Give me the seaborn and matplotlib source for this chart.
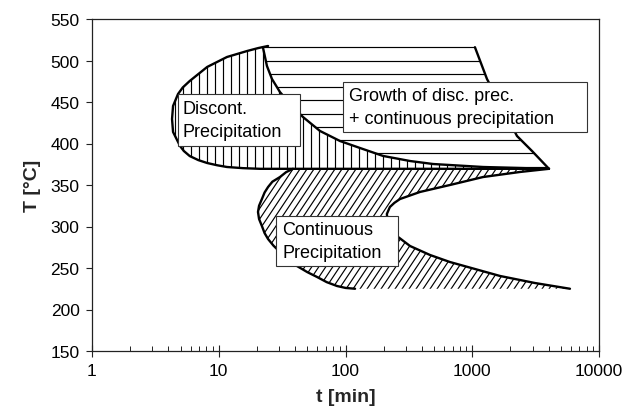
import numpy as np
import matplotlib
matplotlib.use("Agg")
import matplotlib.pyplot as plt
from matplotlib.collections import LineCollection
from matplotlib.patches import Rectangle
import seaborn as sns

# ---- TTT diagram boundaries (t in min, T in °C) ----
disc_outer_t = [24.5, 20.5, 16.7, 11.6, 8.1, 5.9, 5.2, 4.77, 4.36, 4.28, 4.36, 4.95, 5.3, 5.9, 6.9, 8.1,
                9.7, 11.6, 15.5, 21.2, 269, 4030]
disc_outer_T = [517.5, 515.0, 511.4, 504.2, 492.2, 475.3, 467.5, 459.6, 445.2, 429.5, 413.9, 397.0, 391.0,
                384.9, 380.0, 376.5, 373.8, 371.7, 370.3, 369.5, 369.5, 369.5]

disc_inner_t = [22.3, 24.0, 26.3, 30.4, 37.8, 46.2, 62.9, 90.5, 130, 198, 323, 490, 1216, 4030]
disc_inner_T = [516, 493.4, 477.7, 462.0, 445.2, 431.9, 415.1, 403.0, 394.6, 385.0, 378.9, 375.3, 371.7, 369.5]

growth_top_t = [22.3, 1050]
growth_top_T = [516, 516]
growth_right_t = [1050, 1307, 1748, 2255, 2960, 4030]
growth_right_T = [516, 477.7, 441.6, 409.0, 391.0, 369.5]

cont_outer_t = [38.5, 34.0, 30.4, 26.5, 24.5, 23.0, 21.9, 20.8, 20.4, 20.8, 21.9, 23.0, 24.5, 27.0, 30.4,
                35.0, 41.4, 50.0, 59.6, 71.0, 85.7, 100, 119]
cont_outer_T = [369.5, 365.5, 359.6, 354.0, 347.6, 341.0, 333.1, 325.0, 317.5, 309.0, 300.6, 292.0, 284.9,
                277.0, 269.3, 261.0, 252.4, 245.0, 239.2, 233.0, 228.3, 226.0, 225]
cont_inner_t = [4030, 2381, 1216, 667, 387, 269, 243, 224, 212, 214, 224, 238, 260, 323, 464, 667, 1051,
                1656, 3127, 5900]
cont_inner_T = [369.5, 365.7, 359.6, 350.0, 341.6, 333.1, 328.5, 323.5, 315.1, 309.0, 303.0, 295.0, 287.4,
                276.5, 265.7, 257.2, 248.8, 240.4, 231.9, 225]

x_ticks = [1, 10, 100, 1000, 10000]
x_tick_labels = ["1", "10", "100", "1000", "10000"]
y_ticks = [150, 200, 250, 300, 350, 400, 450, 500, 550]

label_disc = "Discont.\nPrecipitation"
label_growth = "Growth of disc. prec.\n+ continuous precipitation"
label_cont = "Continuous\nPrecipitation"

sns.set_theme(style="ticks")
plt.rcParams["font.family"] = ["Liberation Sans", "DejaVu Sans"]

W, H = 638, 414
fig = plt.figure(figsize=(W / 100, H / 100), dpi=100)
ax_l, ax_b, ax_w, ax_h = 92, 62, 507, 332
ax = fig.add_axes([ax_l / W, ax_b / H, ax_w / W, ax_h / H])
ax.set_xscale("log")
ax.set_xlim(1, 10000)
ax.set_ylim(150, 550)

# Region outlines used as clip paths for the hatching
poly_disc = ax.fill(disc_outer_t + disc_inner_t[::-1], disc_outer_T + disc_inner_T[::-1],
                    facecolor="white", edgecolor="none", zorder=1)[0]
poly_growth = ax.fill(growth_top_t + growth_right_t[1:] + disc_inner_t[::-1][1:],
                      growth_top_T + growth_right_T[1:] + disc_inner_T[::-1][1:],
                      facecolor="white", edgecolor="none", zorder=1)[0]
poly_cont = ax.fill(cont_outer_t + cont_inner_t[::-1], cont_outer_T + cont_inner_T[::-1],
                    facecolor="white", edgecolor="none", zorder=1)[0]

hatch_kw = dict(colors="black", linewidths=0.85, zorder=2)

# vertical hatching (axes-pixel spacing)
xs = np.arange(3, ax_w, 8.0) / ax_w
vert = [[(x, 0), (x, 1)] for x in xs]
lc_v = LineCollection(vert, transform=ax.transAxes, **hatch_kw)
ax.add_collection(lc_v)
lc_v.set_clip_path(poly_disc)

# horizontal hatching
levels = np.arange(growth_top_T[0] - 16.0, 360, -16.0)
lc_h = ax.hlines(levels, 1, 10000, **hatch_kw)
lc_h.set_clip_path(poly_growth)

# diagonal hatching
slope = 1.5
diag = []
for c in np.arange(-ax_h / slope, ax_w + 10, 7.0):
    x0, x1 = c, c + ax_h / slope
    diag.append([(x0 / ax_w, 0), (x1 / ax_w, 1)])
lc_d = LineCollection(diag, transform=ax.transAxes, **hatch_kw)
ax.add_collection(lc_d)
lc_d.set_clip_path(poly_cont)

# Boundary curves
thick = dict(color="black", linewidth=1.7, sort=False, estimator=None, ax=ax, zorder=3)
sns.lineplot(x=disc_outer_t, y=disc_outer_T, **thick)
sns.lineplot(x=disc_inner_t, y=disc_inner_T, **thick)
sns.lineplot(x=growth_right_t, y=growth_right_T, **thick)
sns.lineplot(x=cont_outer_t, y=cont_outer_T, **thick)
sns.lineplot(x=cont_inner_t, y=cont_inner_T, **thick)
sns.lineplot(x=growth_top_t, y=growth_top_T, color="black", linewidth=0.85,
             sort=False, estimator=None, ax=ax, zorder=3)
for line in ax.get_lines():
    line.set_solid_joinstyle("round")

# Label boxes (white, thin frame)
def label_box(px0, py0, px1, py1, tx, text):
    x0 = (px0 - ax_l) / ax_w
    x1 = (px1 - ax_l) / ax_w
    y0 = (H - ax_b - py1) / ax_h
    y1 = (H - ax_b - py0) / ax_h
    ax.add_patch(Rectangle((x0, y0), x1 - x0, y1 - y0, transform=ax.transAxes,
                           facecolor="white", edgecolor="#333333", linewidth=0.8, zorder=4))
    ax.text((tx - ax_l) / ax_w, (y0 + y1) / 2, text, transform=ax.transAxes,
            ha="left", va="center", fontsize=13, linespacing=1.45, color="black", zorder=5)

label_box(178, 95, 300, 147, 183, label_disc)
label_box(343, 83, 587, 133, 349, label_growth)
label_box(276, 217, 398, 267, 282, label_cont)

# Axes styling
for s in ax.spines.values():
    s.set_color("#222222")
    s.set_linewidth(0.9)
ax.set_xticks(x_ticks)
ax.set_xticklabels(x_tick_labels)
ax.set_yticks(y_ticks)
ax.tick_params(axis="y", which="major", direction="out", length=4, width=0.8,
               labelsize=12.5, pad=5, colors="#222222", labelcolor="black")
ax.tick_params(axis="x", which="major", direction="inout", length=8, width=0.8,
               labelsize=12.5, pad=5, colors="#222222", labelcolor="black")
ax.tick_params(axis="x", which="minor", direction="in", length=3.5, width=0.7, colors="#222222")
ax.tick_params(left=True, bottom=True, top=False, right=False)
ax.tick_params(axis="x", which="minor", top=False, bottom=True)

ax.set_xlabel("t [min]", fontsize=14, fontweight="bold", labelpad=7)
ax.set_ylabel("T [°C]", fontsize=14, fontweight="bold", labelpad=7)

fig.savefig("out.png", dpi=100, facecolor="white")
